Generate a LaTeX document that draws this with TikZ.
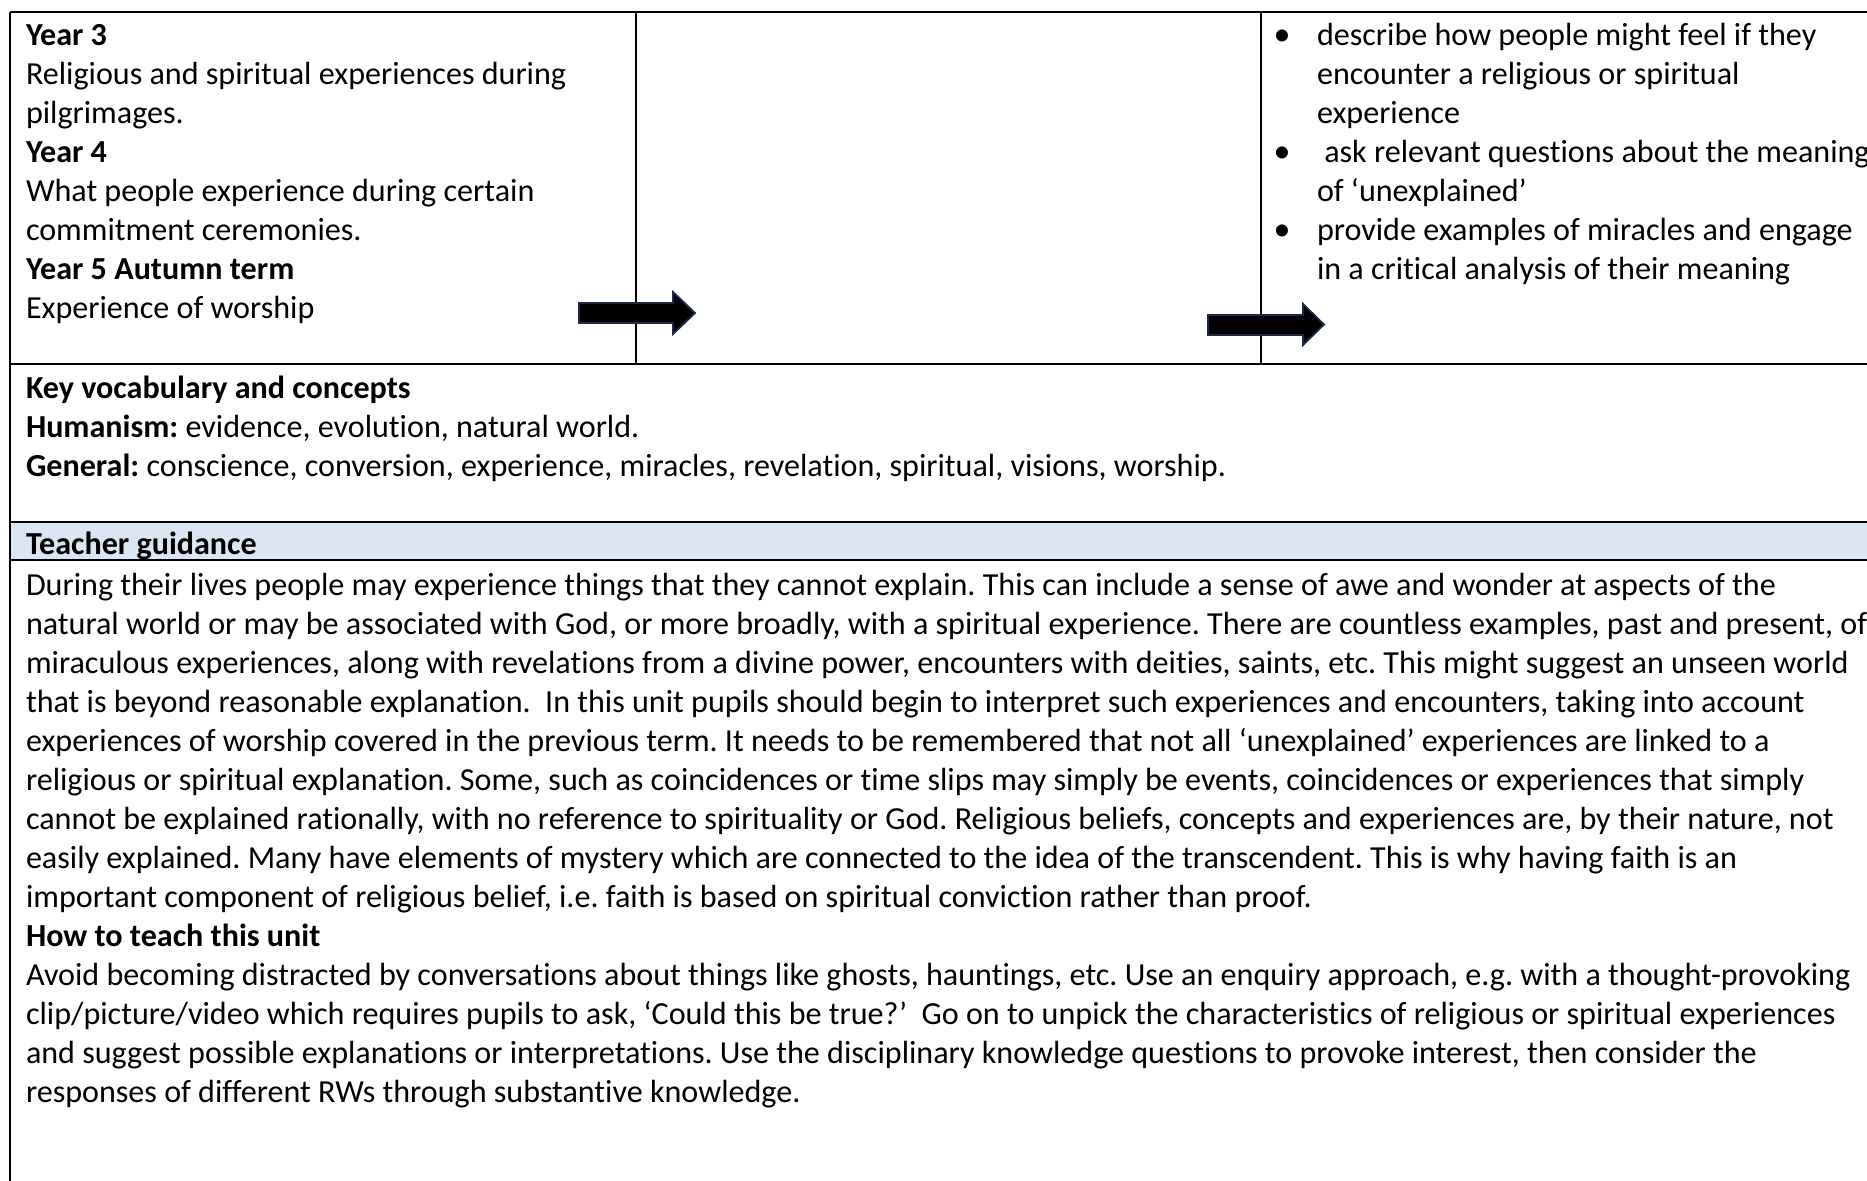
\documentclass[tikz,border=0pt]{standalone}
\usepackage{fontspec}
\setmainfont{Carlito}[Ligatures={NoCommon}]
\frenchspacing
\definecolor{bandblue}{HTML}{DCE6F2}
\definecolor{arrowedge}{HTML}{1C2A48}
\newcommand{\mainfs}{\fontsize{16.05pt}{19.5pt}\selectfont}
\tikzset{
  txt/.style={anchor=base west, inner sep=0pt, outer sep=0pt, font=\mainfs},
  rule/.style={line width=0.8pt, black},
  blockarrow/.style={fill=black, draw=arrowedge, line width=0.9pt, line join=miter},
  bulletmark/.style={anchor=base, inner sep=0pt, font=\fontsize{17pt}{19.5pt}\selectfont}
}
\begin{document}
\begin{tikzpicture}[x=0.5pt, y=-0.5pt]
\useasboundingbox (0,0) rectangle (1867,1181);
\clip (0,0) rectangle (1867,1181);
% band
\fill[bandblue] (10,522) rectangle (1867,560);
% table rules
\coordinate (tl) at (10,12);
\coordinate (tr) at (1867,12);
\coordinate (bl) at (10,1181);
\draw[rule] (tl) -- (tr);
\draw[rule] (tl) -- (bl);
\draw[rule] (636,12) -- (636,364);
\draw[rule] (1261,12) -- (1261,364);
\draw[rule] (10,364) -- (1867,364);
\draw[rule] (10,522) -- (1867,522);
\draw[rule] (10,560) -- (1867,560);

% column 1
\node[txt] (c1) at (26,46) {\textbf{Year 3}};
\node[txt] (c2) at (26,85) {Religious and spiritual experiences during};
\node[txt] (c3) at (26,124) {pilgrimages.};
\node[txt] (c4) at (26,163) {\textbf{Year 4}};
\node[txt] (c5) at (26,202) {What people experience during certain};
\node[txt] (c6) at (26,241) {commitment ceremonies.};
\node[txt] (c7) at (26,279.5) {\textbf{Year 5 Autumn term}};
\node[txt] (c8) at (26,318.5) {Experience of worship};

% arrows
\draw[blockarrow] (579,303) -- (673,303) -- (673,292) -- (695,313) -- (673,334) -- (673,323) -- (579,323) -- cycle;
\draw[blockarrow] (1208,315) -- (1303,315) -- (1303,304) -- (1324,324.5) -- (1303,345) -- (1303,335) -- (1208,335) -- cycle;

% column 3 bullets
\node[bulletmark] (b1) at (1282,46) {•};
\node[bulletmark] (b2) at (1282,163) {•};
\node[bulletmark] (b3) at (1282,241) {•};
\node[txt] (r1) at (1317,46) {describe how people might feel if they};
\node[txt] (r2) at (1317,85) {encounter a religious or spiritual};
\node[txt] (r3) at (1317,124) {experience};
\node[txt] (r4) at (1317,163) {\ ask relevant questions about the meaning};
\node[txt] (r5) at (1317,202) {of ‘unexplained’};
\node[txt] (r6) at (1317,241) {provide examples of miracles and engage};
\node[txt] (r7) at (1317,279.5) {in a critical analysis of their meaning};

% key vocabulary
\node[txt] (k1) at (26,398.5) {\textbf{Key vocabulary and concepts}};
\node[txt] (k2) at (26,437.5) {\textbf{Humanism:} evidence, evolution, natural world.};
\node[txt] (k3) at (26,476.5) {\textbf{General:} conscience, conversion, experience, miracles, revelation, spiritual, visions, worship.};

% teacher guidance
\node[txt] (th) at (26,554) {\textbf{Teacher guidance}};
\node[txt] (g1) at (26,595.5) {During their lives people may experience things that they cannot explain. This can include a sense of awe and wonder at aspects of the};
\node[txt] (g2) at (26,634.5) {natural world or may be associated with God, or more broadly, with a spiritual experience. There are countless examples, past and present, of};
\node[txt] (g3) at (26,673.5) {miraculous experiences, along with revelations from a divine power, encounters with deities, saints, etc. This might suggest an unseen world};
\node[txt] (g4) at (26,712.5) {that is beyond reasonable explanation.\ \ In this unit pupils should begin to interpret such experiences and encounters, taking into account};
\node[txt] (g5) at (26,751.5) {experiences of worship covered in the previous term. It needs to be remembered that not all ‘unexplained’ experiences are linked to a};
\node[txt] (g6) at (26,790.5) {religious or spiritual explanation. Some, such as coincidences or time slips may simply be events, coincidences or experiences that simply};
\node[txt] (g7) at (26,829.5) {cannot be explained rationally, with no reference to spirituality or God. Religious beliefs, concepts and experiences are, by their nature, not};
\node[txt] (g8) at (26,868.5) {easily explained. Many have elements of mystery which are connected to the idea of the transcendent. This is why having faith is an};
\node[txt] (g9) at (26,907.5) {important component of religious belief, i.e. faith is based on spiritual conviction rather than proof.};
\node[txt] (h1) at (26,946.5) {\textbf{How to teach this unit}};
\node[txt] (h2) at (26,985.5) {Avoid becoming distracted by conversations about things like ghosts, hauntings, etc. Use an enquiry approach, e.g. with a thought-provoking};
\node[txt] (h3) at (26,1024.5) {clip/picture/video which requires pupils to ask, ‘Could this be true?’\ \ Go on to unpick the characteristics of religious or spiritual experiences};
\node[txt] (h4) at (26,1063.5) {and suggest possible explanations or interpretations. Use the disciplinary knowledge questions to provoke interest, then consider the};
\node[txt] (h5) at (26,1102.5) {responses of different RWs through substantive knowledge.};
\end{tikzpicture}
\end{document}
